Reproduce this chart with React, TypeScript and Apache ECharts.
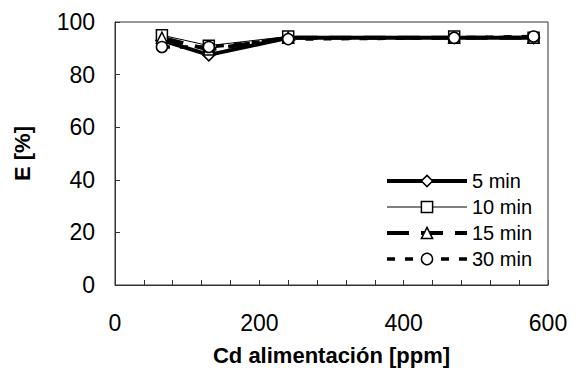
import React, { useEffect, useRef } from "react";
import * as echarts from "echarts";

const feedCd = [65, 130, 240, 470, 580];
const e5min = [93, 87.5, 94, 94, 94];
const e10min = [95, 91, 94.5, 94.5, 94];
const e15min = [94, 89.5, 94, 94, 94];
const e30min = [90.5, 90.5, 93.5, 94, 94.5];
const seriesNames = ["5 min", "10 min", "15 min", "30 min"];
const xTitle = "Cd alimentación [ppm]";
const yTitle = "E [%]";

const pairs = (ys: number[]) => feedCd.map((x, i) => [x, ys[i]]);

export default function App() {
  const ref = useRef<HTMLDivElement>(null);
  useEffect(() => {
    if (!ref.current) return;
    document.body.style.margin = "0";
    const chart = echarts.init(ref.current, undefined, { renderer: "svg" });
    const font = "'Liberation Sans', Arial, sans-serif";
    const mk = (name: string, ys: number[], symbol: string, width: number, type: any, size: number) => ({
      name,
      type: "line",
      data: pairs(ys),
      symbol,
      symbolSize: size,
      showSymbol: true,
      lineStyle: { color: "#000", width, type },
      itemStyle: { color: "#fff", borderColor: "#000", borderWidth: 1.5 },
    });
    chart.setOption({
      animation: false,
      backgroundColor: "#fff",
      textStyle: { fontFamily: font },
      grid: { left: 115, right: 34, top: 22, bottom: 97, show: true, borderColor: "#333", borderWidth: 1 },
      legend: {
        orient: "vertical",
        left: 385,
        top: 171,
        padding: 0,
        itemWidth: 80,
        itemHeight: 14,
        itemGap: 6,
        data: seriesNames,
        textStyle: { fontFamily: font, fontSize: 20, lineHeight: 20, color: "#000", padding: [0, 0, 0, 0] },
        lineStyle: { width: "inherit" },
        itemStyle: { borderWidth: 1.5 },
      },
      xAxis: {
        type: "value",
        min: 0,
        max: 600,
        interval: 200,
        axisLine: { show: true, lineStyle: { color: "#333" } },
        axisTick: { show: true, inside: true, length: 5, lineStyle: { color: "#333" } },
        minorTick: { show: true, splitNumber: 5, length: 5, lineStyle: { color: "#333" } },
        splitLine: { show: false },
        axisLabel: { fontSize: 23, color: "#000", margin: 26, fontFamily: font },
        name: xTitle,
        nameLocation: "middle",
        nameGap: 59,
        nameTextStyle: { fontSize: 22, fontWeight: "bold", color: "#000", fontFamily: font },
      },
      yAxis: {
        type: "value",
        min: 0,
        max: 100,
        interval: 20,
        axisLine: { show: true, lineStyle: { color: "#333" } },
        axisTick: { show: true, inside: true, length: 5, lineStyle: { color: "#333" } },
        splitLine: { show: false },
        axisLabel: { fontSize: 23, color: "#000", margin: 20, fontFamily: font },
        name: yTitle,
        nameLocation: "middle",
        nameGap: 82,
        nameTextStyle: { fontSize: 22, fontWeight: "bold", color: "#000", fontFamily: font },
      },
      series: [
        mk(seriesNames[0], e5min, "diamond", 4, "solid", 12),
        mk(seriesNames[1], e10min, "rect", 1, "solid", 11),
        mk(seriesNames[2], e15min, "triangle", 4, [22, 12], 11),
        mk(seriesNames[3], e30min, "circle", 3.5, [8, 10], 11),
      ],
    });
    return () => chart.dispose();
  }, []);
  return <div ref={ref} style={{ width: 582, height: 382 }} />;
}
